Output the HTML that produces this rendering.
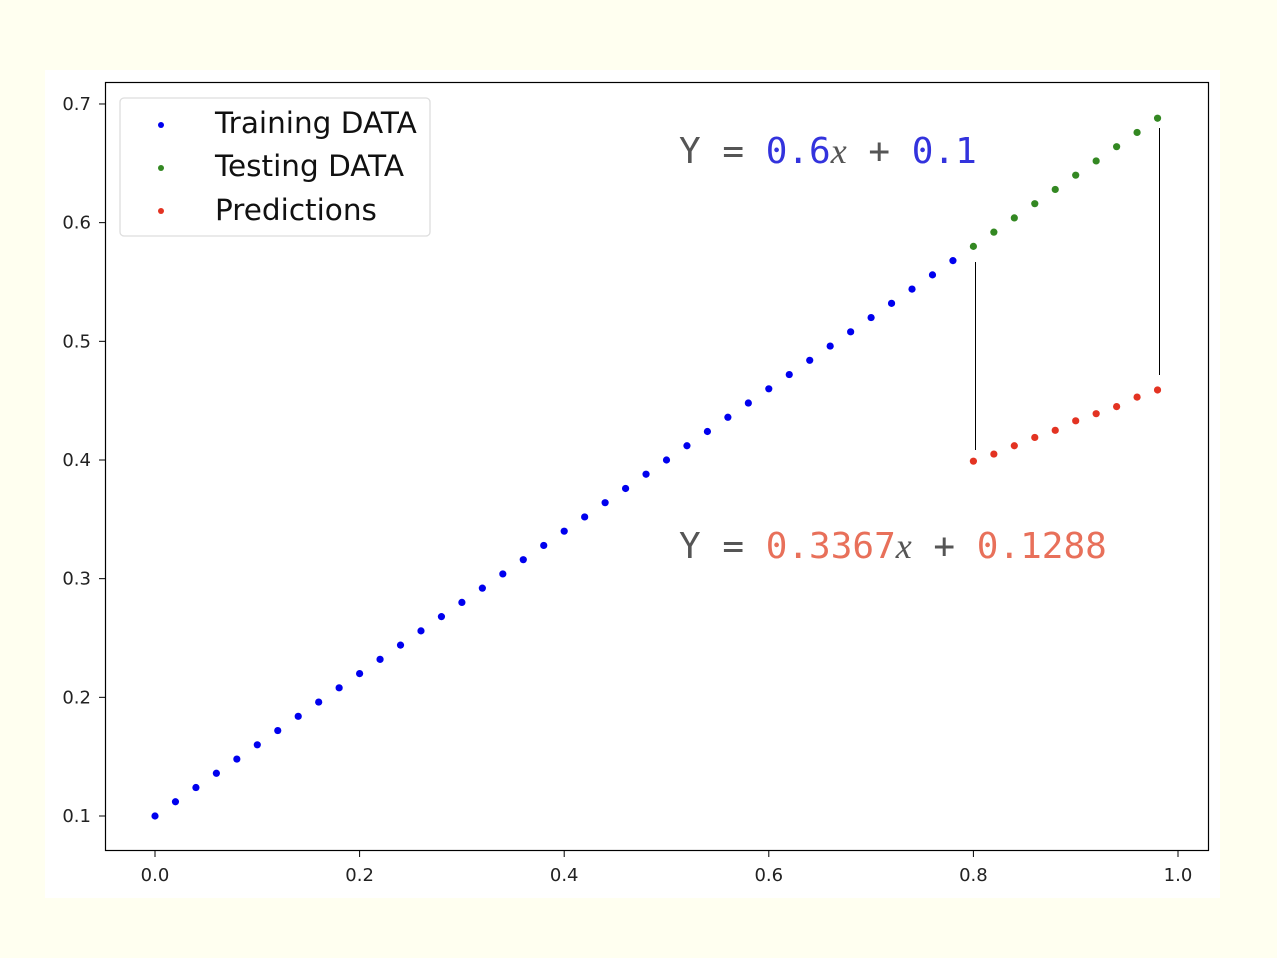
<!DOCTYPE html>
<html><head><meta charset="utf-8"><style>
html,body{margin:0;padding:0;background:#fffff0;}
svg{display:block;}
text{font-family:"DejaVu Sans","Liberation Sans",sans-serif;}
.mono{font-family:"DejaVu Sans Mono","Liberation Mono",monospace;font-size:36px;}
</style></head><body>
<svg id="chart" width="1277" height="958" xmlns="http://www.w3.org/2000/svg">
<rect x="45" y="70" width="1175" height="828" fill="#ffffff"/>
<rect x="105.5" y="82.5" width="1103" height="768" fill="#fff" stroke="#000" stroke-width="1.2"/>
<g id="ticks"></g>
<g id="marks"></g>
<line x1="975.5" y1="262" x2="975.5" y2="450" stroke="#000" stroke-width="1"/>
<line x1="1159.5" y1="128" x2="1159.5" y2="375" stroke="#000" stroke-width="1"/>
<g>
<rect x="120" y="98" width="310" height="138" rx="4" fill="#fff" stroke="#ddd" stroke-width="1.3"/>
<circle cx="161" cy="125" r="3" fill="#0000ee"/>
<text x="215" y="133" font-size="29.5" fill="#111">Training DATA</text>
<circle cx="161" cy="168" r="3" fill="#338822"/>
<text x="215" y="176" font-size="29.5" fill="#111">Testing DATA</text>
<circle cx="161" cy="211" r="3" fill="#e33322"/>
<text x="215" y="220" font-size="29.5" fill="#111">Predictions</text>
</g>
<text class="mono" x="679" y="163" fill="#555">Y = <tspan fill="#3333dd">0.6</tspan><tspan font-family="Liberation Serif,serif" font-style="italic">x</tspan> + <tspan fill="#3333dd">0.1</tspan></text>
<text class="mono" x="679" y="558" fill="#555">Y = <tspan fill="#e8705a">0.3367</tspan><tspan font-family="Liberation Serif,serif" font-style="italic">x</tspan> + <tspan fill="#e8705a">0.1288</tspan></text>
</svg>
<script>
const trainX=[0,0.02,0.04,0.06,0.08,0.1,0.12,0.14,0.16,0.18,0.2,0.22,0.24,0.26,0.28,0.3,0.32,0.34,0.36,0.38,0.4,0.42,0.44,0.46,0.48,0.5,0.52,0.54,0.56,0.58,0.6,0.62,0.64,0.66,0.68,0.7,0.72,0.74,0.76,0.78];
const trainY=[0.1,0.112,0.124,0.136,0.148,0.16,0.172,0.184,0.196,0.208,0.22,0.232,0.244,0.256,0.268,0.28,0.292,0.304,0.316,0.328,0.34,0.352,0.364,0.376,0.388,0.4,0.412,0.424,0.436,0.448,0.46,0.472,0.484,0.496,0.508,0.52,0.532,0.544,0.556,0.568];
const testX=[0.8,0.82,0.84,0.86,0.88,0.9,0.92,0.94,0.96,0.98];
const testY=[0.58,0.592,0.604,0.616,0.628,0.64,0.652,0.664,0.676,0.688];
const predY=[0.399,0.405,0.412,0.419,0.425,0.433,0.439,0.445,0.453,0.459];
const xTicks=[0,0.2,0.4,0.6,0.8,1.0];
const xTickLabels=["0.0","0.2","0.4","0.6","0.8","1.0"];
const yTicks=[0.1,0.2,0.3,0.4,0.5,0.6,0.7];
const yTickLabels=["0.1","0.2","0.3","0.4","0.5","0.6","0.7"];
const NS="http://www.w3.org/2000/svg";
const sx=v=>155+v*1023;
const sy=v=>816-(v-0.1)*1186.7;
const ticks=document.getElementById('ticks'),marks=document.getElementById('marks');
function mk(tag,attrs,parent){const e=document.createElementNS(NS,tag);for(const k in attrs)e.setAttribute(k,attrs[k]);parent.appendChild(e);return e;}
xTicks.forEach((v,i)=>{
 const l=mk('line',{x1:sx(v),x2:sx(v),y1:851,y2:857,stroke:'#000'},ticks);
 
 
 const t=mk('text',{x:sx(v),y:881,'text-anchor':'middle','font-size':'18',fill:'#222'},ticks);
 t.textContent=xTickLabels[i];
 
 
});
yTicks.forEach((v,i)=>{
 const l=mk('line',{x1:99,x2:105,y1:sy(v),y2:sy(v),stroke:'#000'},ticks);
 
 
 const t=mk('text',{x:91,y:sy(v)+6,'text-anchor':'end','font-size':'18',fill:'#222'},ticks);
 t.textContent=yTickLabels[i];
 
 
});
function dots(xs,ys,color,name){xs.forEach((x,i)=>{
 const c=mk('circle',{cx:sx(x),cy:sy(ys[i]),r:3.6,fill:color},marks);
 
 
});}
dots(trainX,trainY,'#0000ee','training-point');
dots(testX,testY,'#338822','testing-point');
dots(testX,predY,'#e33322','prediction-point');
</script>
</body></html>
